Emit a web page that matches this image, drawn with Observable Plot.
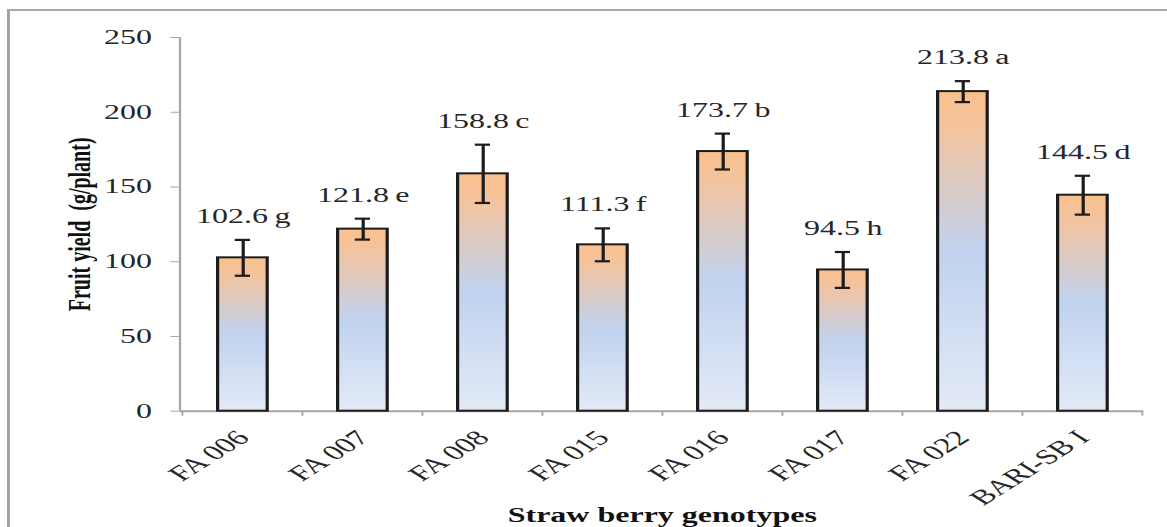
<!DOCTYPE html>
<html>
<head>
<meta charset="utf-8">
<script src="https://cdn.jsdelivr.net/npm/d3@7"></script>
<script src="https://cdn.jsdelivr.net/npm/@observablehq/plot@0.6"></script>
<style>
  body { margin: 0; background: #fff; }
  #wrap { position: relative; width: 1167px; height: 527px; overflow: hidden; background: #fff; }
  #chart { position: absolute; left: 0; top: 0; }
  #frame { position: absolute; left: 7px; top: 9px; width: 1300px; height: 700px;
           border-left: 3px solid #a3a3a3; border-top: 2px solid #a8a8a8; pointer-events: none; }
</style>
</head>
<body>
<div id="wrap"><div id="chart"></div><div id="frame"></div></div>
<script>
// ---- data ----
const genotypes = ["FA 006", "FA 007", "FA 008", "FA 015", "FA 016", "FA 017", "FA 022", "BARI-SB I"];
const yields    = [102.6, 121.8, 158.8, 111.3, 173.7, 94.5, 213.8, 144.5];
const errors    = [12, 7, 19.5, 11, 12, 12, 7, 13];
const letters   = ["g", "e", "c", "f", "b", "h", "a", "d"];
const yTicks    = [0, 50, 100, 150, 200, 250];
const yTitle    = "Fruit yield  (g/plant)";
const xTitle    = "Straw berry genotypes";

// ---- layout ----
const S = 1.6;                 // the reference is stretched horizontally
const OUT_W = 1167, OUT_H = 527;
const W = OUT_W / S, H = OUT_H;
const mL = 180 / S, mR = 24 / S, mT = 37, mB = OUT_H - 410.7;
const padIn = 0.59;
const step = (W - mL - mR) / genotypes.length;
const bw = step * (1 - padIn);
const capInset = (bw - 15 / S) / 2;
const FONT = "'Liberation Serif', 'Times New Roman', Times, serif";
const INK = "#262626";

const data = genotypes.map((g, i) => ({
  g, v: yields[i], e: errors[i], lab: `${yields[i]}\u2009${letters[i]}`
}));

const defs = () => {
  const d = d3.create("svg:defs");
  const lg = d.append("linearGradient").attr("id", "barGrad")
    .attr("x1", 0).attr("y1", 0).attr("x2", 0).attr("y2", 1);
  lg.append("stop").attr("offset", 0).attr("stop-color", "#f9c08c");
  lg.append("stop").attr("offset", 0.1).attr("stop-color", "#f5c39b");
  lg.append("stop").attr("offset", 0.5).attr("stop-color", "#c0d2ef");
  lg.append("stop").attr("offset", 1).attr("stop-color", "#e3eaf7");
  return d.node();
};

// y-axis line and x-axis category-boundary ticks, placed with Plot's scales
const axisLines = (index, scales, values, dims) => {
  const g = d3.create("svg:g").attr("stroke", "#a6a6a6").attr("fill", "none");
  const y0 = scales.y(0), yMax = scales.y(d3.max(yTicks));
  g.append("line").attr("x1", dims.marginLeft).attr("x2", dims.marginLeft)
    .attr("y1", yMax).attr("y2", y0).attr("stroke-width", 1.4);
  const st = scales.x.step ? scales.x.step() : step;
  const bwx = scales.x.bandwidth ? scales.x.bandwidth() : bw;
  const bounds = genotypes.map(c => scales.x(c) + bwx / 2 - st / 2);
  bounds.push(scales.x(genotypes[genotypes.length - 1]) + bwx / 2 + st / 2);
  for (const b of bounds) {
    g.append("line").attr("x1", b).attr("x2", b).attr("y1", y0).attr("y2", y0 + 5)
      .attr("stroke-width", 1.2);
  }
  return g.node();
};

const svg = Plot.plot({
  width: W, height: H,
  marginLeft: mL, marginRight: mR, marginTop: mT, marginBottom: mB,
  style: { fontFamily: FONT, fontSize: "20px", color: INK, background: "white" },
  x: { domain: genotypes, paddingInner: padIn, paddingOuter: padIn / 2, label: null },
  y: { domain: [0, 250], label: null },
  marks: [
    defs,
    Plot.ruleY([0], { stroke: "#a6a6a6", strokeWidth: 2 }),
    axisLines,
    Plot.axisY({ ticks: yTicks, tickSize: 6, tickPadding: 12, stroke: "#a6a6a6", fill: INK,
                 fontSize: 20, fontFamily: FONT, label: null, tickFormat: d => d }),
    Plot.axisX({ tickSize: 0, tickPadding: 23, tickRotate: -45, fill: INK,
                 fontSize: 21, fontFamily: FONT, label: null }),
    Plot.barY(data, { x: "g", y: "v", fill: "url(#barGrad)", stroke: "#1c1c1c", strokeWidth: 2 }),
    Plot.ruleX(data, { x: "g", y1: d => d.v - d.e, y2: d => d.v + d.e, stroke: "#1c1c1c", strokeWidth: 2 }),
    Plot.tickY(data, { x: "g", y: d => d.v + d.e, insetLeft: capInset, insetRight: capInset, stroke: "#1c1c1c", strokeWidth: 2.2 }),
    Plot.tickY(data, { x: "g", y: d => d.v - d.e, insetLeft: capInset, insetRight: capInset, stroke: "#1c1c1c", strokeWidth: 2.2 }),
    Plot.text(data, { x: "g", y: d => d.v + d.e, text: "lab", dy: -17, lineAnchor: "bottom",
                      fontSize: 20, fontFamily: FONT, fill: INK }),
    Plot.text([yTitle], { frameAnchor: "left", dx: 79 / S - mL, rotate: -90, textAnchor: "middle",
                          lineAnchor: "middle", fontWeight: "bold",
                          fontSize: 20, fontFamily: FONT, fill: "#111" }),
    Plot.text([xTitle], { frameAnchor: "bottom", dy: 111, lineAnchor: "bottom", fontWeight: "bold",
                          fontSize: 20, fontFamily: FONT, fill: "#111" })
  ]
});

svg.setAttribute("width", OUT_W);
svg.setAttribute("height", OUT_H);
svg.setAttribute("preserveAspectRatio", "none");
svg.style.width = OUT_W + "px";
svg.style.height = OUT_H + "px";
svg.style.maxWidth = "none";
document.getElementById("chart").appendChild(svg);
</script>
</body>
</html>
